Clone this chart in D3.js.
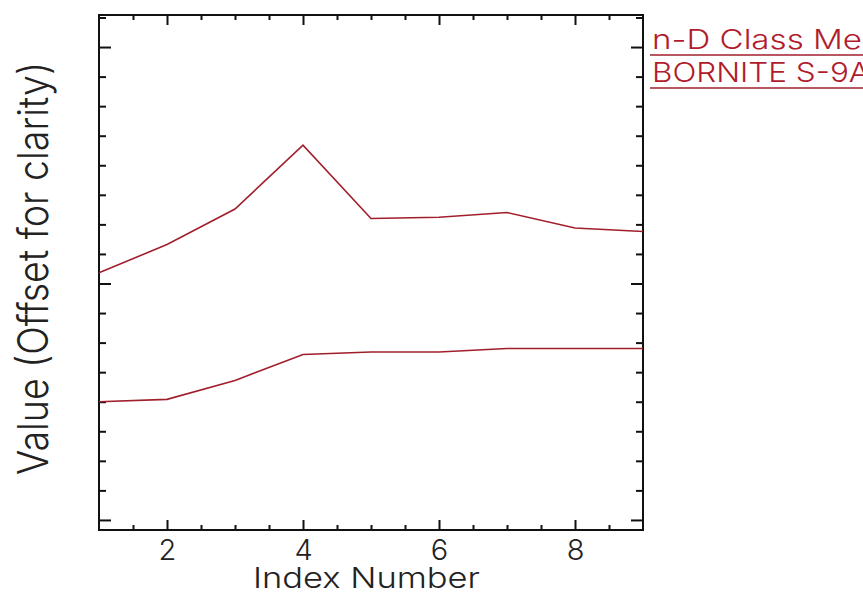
<!DOCTYPE html>
<html>
<head>
<meta charset="utf-8">
<script src="https://cdn.jsdelivr.net/npm/d3@7"></script>
<style>
  body { margin: 0; background: #fff; }
  svg { display: block; }
  .axis text { font-family: Inter, "DejaVu Sans", sans-serif; font-weight: 300; fill: #222; }
  .axis line { stroke: #111; stroke-width: 2; }
  .axis path { display: none; }
  .label { font-family: Inter, "DejaVu Sans", sans-serif; font-weight: 300; fill: #222; }
  .legend { font-family: Inter, "DejaVu Sans", sans-serif; font-weight: 300; fill: #b01c2c; }
</style>
</head>
<body>
<svg class="chart"></svg>
<script>
// chart data
var indexNumbers = [1, 2, 3, 4, 5, 6, 7, 8, 9];
var upperValues = [0.409, 0.433, 0.463, 0.517, 0.455, 0.456, 0.460, 0.447, 0.444];
var lowerValues = [0.300, 0.302, 0.318, 0.340, 0.342, 0.342, 0.345, 0.345, 0.345];
var xTickLabels = [2, 4, 6, 8];
var legendLabels = ["n-D Class Me", "BORNITE S-9A"];

// define margins
var margin = {top: 15, right: 220, bottom: 66, left: 99},
  width = 863 - margin.left - margin.right,
  height = 596 - margin.top - margin.bottom;

var lineColor = "#a11f2c";

// x scale
var x = d3.scaleLinear()
  .domain([1, 9])
  .range([0, width]);

// y scale (values offset for clarity, no labels)
var y = d3.scaleLinear()
  .domain([0.1915, 0.6271])
  .range([height, 0]);

var xMinor = d3.range(1.5, 9, 0.5).filter(function(d) { return xTickLabels.indexOf(d) < 0; });
var yMajor = [0.2, 0.4, 0.6];
var yMinor = d3.range(0.2, 0.627, 0.025).filter(function(d) {
  return yMajor.every(function(m) { return Math.abs(m - d) > 1e-6; });
});

var svg = d3.select(".chart")
  .attr("width", 863)
  .attr("height", 596);

var chart = svg.append("g")
  .attr("transform", "translate(" + margin.left + "," + margin.top + ")");

// bottom axis, ticks pointing in
chart.append("g")
  .attr("class", "x axis")
  .attr("transform", "translate(0," + height + ")")
  .call(d3.axisBottom(x).tickValues(xTickLabels).tickSizeInner(-10).tickSizeOuter(0).tickPadding(9))
  .selectAll("text").style("font-size", "29px");

chart.append("g")
  .attr("class", "x axis")
  .attr("transform", "translate(0," + height + ")")
  .call(d3.axisBottom(x).tickValues(xMinor).tickSizeInner(-5).tickSizeOuter(0).tickFormat(""));

// top axis mirror
chart.append("g")
  .attr("class", "x axis")
  .call(d3.axisBottom(x).tickValues(xTickLabels).tickSizeInner(10).tickSizeOuter(0).tickFormat(""));

chart.append("g")
  .attr("class", "x axis")
  .call(d3.axisBottom(x).tickValues(xMinor).tickSizeInner(5).tickSizeOuter(0).tickFormat(""));

// left axis
chart.append("g")
  .attr("class", "y axis")
  .call(d3.axisLeft(y).tickValues(yMajor).tickSizeInner(-12).tickSizeOuter(0).tickFormat(""));

chart.append("g")
  .attr("class", "y axis")
  .call(d3.axisLeft(y).tickValues(yMinor).tickSizeInner(-7).tickSizeOuter(0).tickFormat(""));

// right axis
chart.append("g")
  .attr("class", "y axis")
  .attr("transform", "translate(" + width + ",0)")
  .call(d3.axisRight(y).tickValues(yMajor).tickSizeInner(-12).tickSizeOuter(0).tickFormat(""));

chart.append("g")
  .attr("class", "y axis")
  .attr("transform", "translate(" + width + ",0)")
  .call(d3.axisRight(y).tickValues(yMinor).tickSizeInner(-7).tickSizeOuter(0).tickFormat(""));

// plot frame
chart.append("rect")
  .attr("width", width)
  .attr("height", height)
  .attr("fill", "none")
  .attr("stroke", "#111")
  .attr("stroke-width", 2);

// lines
var line = d3.line()
  .x(function(d) { return x(d[0]); })
  .y(function(d) { return y(d[1]); });

[upperValues, lowerValues].forEach(function(vals) {
  chart.append("path")
    .datum(indexNumbers.map(function(n, i) { return [n, vals[i]]; }))
    .attr("fill", "none")
    .attr("stroke", lineColor)
    .attr("stroke-width", 1.6)
    .attr("d", line);
});

// x-axis label
chart.append("text")
  .attr("class", "label")
  .attr("x", 366.5 - margin.left)
  .attr("y", 588 - margin.top)
  .attr("text-anchor", "middle")
  .attr("textLength", 227)
  .attr("lengthAdjust", "spacingAndGlyphs")
  .style("font-size", "29px")
  .text("Index Number");

// y-axis label
svg.append("text")
  .attr("class", "label")
  .attr("transform", "rotate(-90)")
  .attr("x", -268.5)
  .attr("y", 48)
  .attr("text-anchor", "middle")
  .attr("textLength", 413)
  .attr("lengthAdjust", "spacingAndGlyphs")
  .style("font-size", "42px")
  .text("Value (Offset for clarity)");

// legend
legendLabels.forEach(function(name, i) {
  svg.append("text")
    .attr("class", "legend")
    .attr("x", 652)
    .attr("y", 49 + i * 33)
    .attr("textLength", i === 0 ? 210 : 218)
    .attr("lengthAdjust", "spacingAndGlyphs")
    .style("font-size", "27px")
    .text(name);

  svg.append("line")
    .attr("x1", 650)
    .attr("x2", 863)
    .attr("y1", 55 + i * 33)
    .attr("y2", 55 + i * 33)
    .attr("stroke", lineColor)
    .attr("stroke-width", 1.6);
});
</script>
</body>
</html>
